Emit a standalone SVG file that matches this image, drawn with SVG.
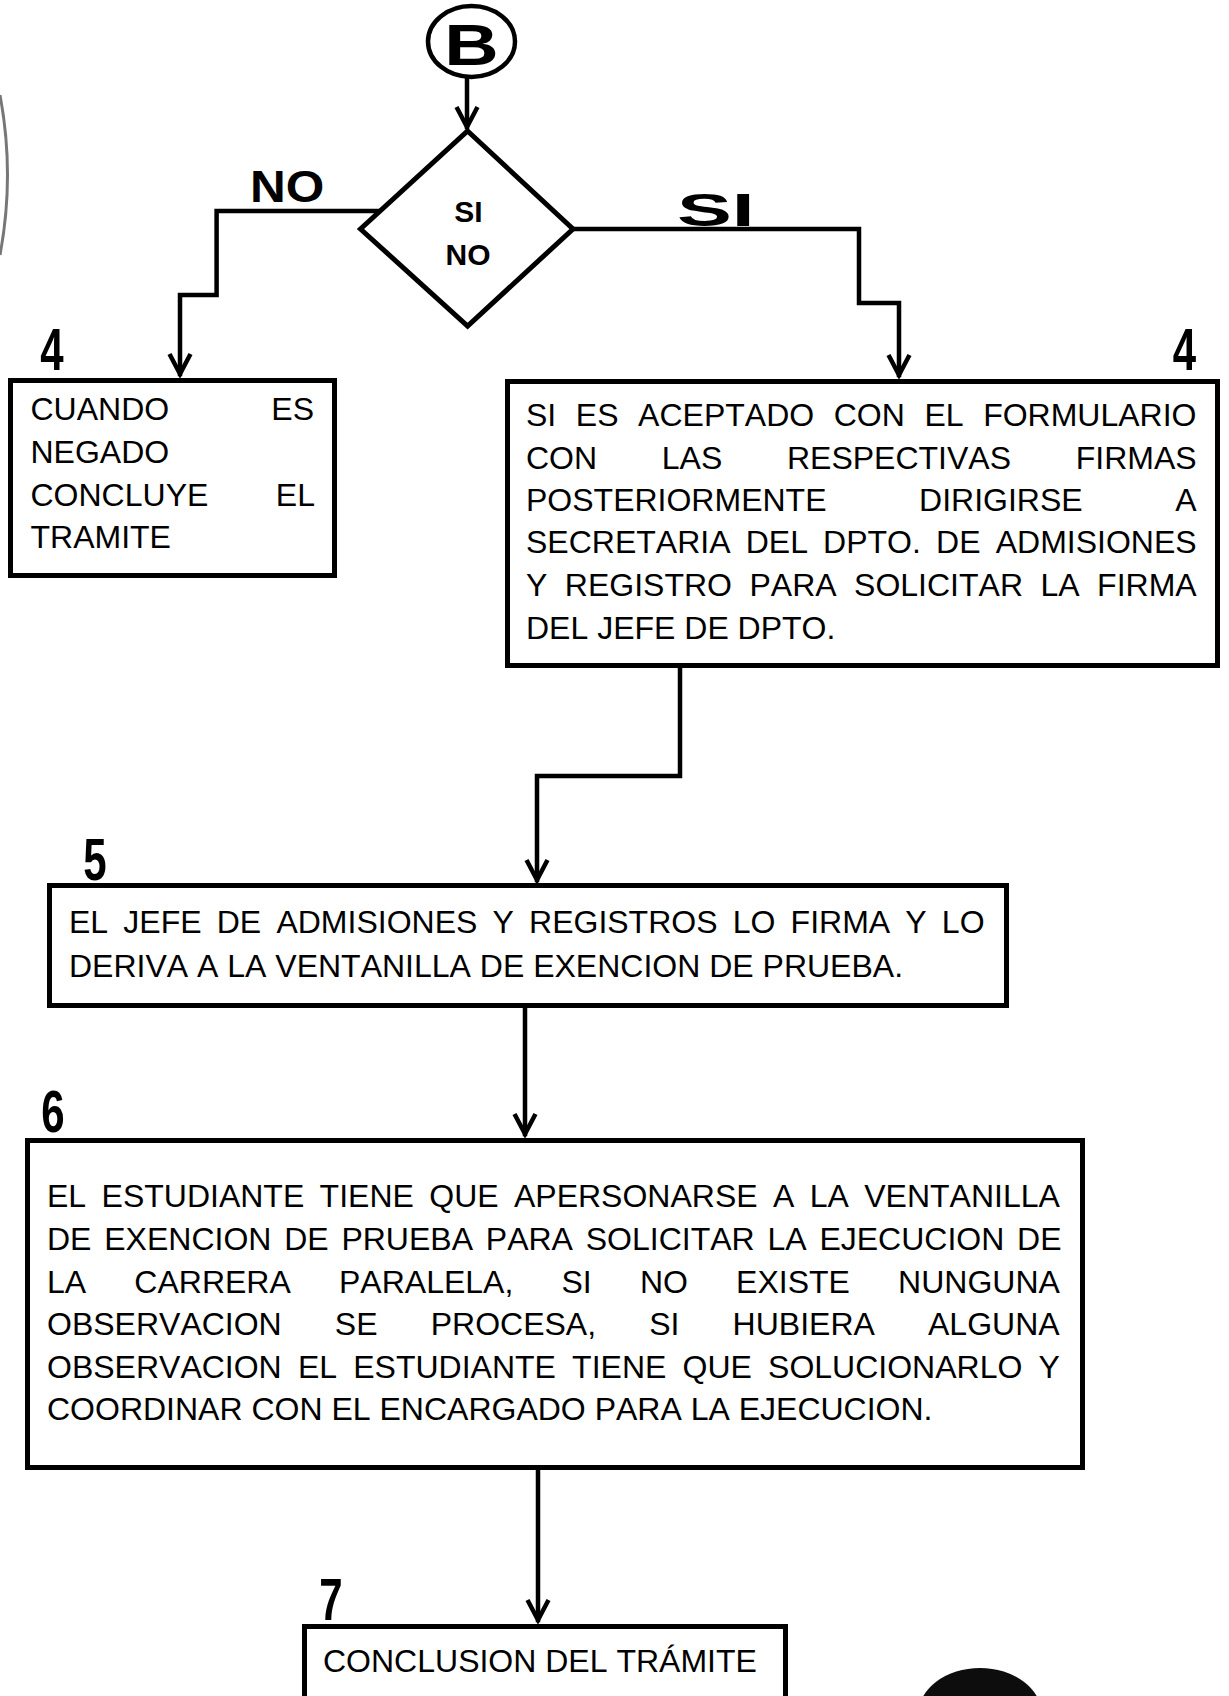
<svg xmlns="http://www.w3.org/2000/svg" width="1229" height="1696" viewBox="0 0 1229 1696">
<style>
.box{fill:#fff;stroke:#000;stroke-width:5;stroke-linejoin:miter}
.conn{fill:none;stroke:#000;stroke-width:4.5;stroke-linejoin:miter;stroke-linecap:square}
text{font-kerning:none}
.t{font-family:"Liberation Sans",Arial,sans-serif;font-size:32px;fill:#000}
.b{font-family:"Liberation Sans",Arial,sans-serif;font-weight:bold;fill:#000}
.num{font-family:"Liberation Sans",Arial,sans-serif;font-weight:bold;font-size:60px;fill:#000;text-anchor:middle}
</style>
<defs>
<marker id="arr" markerUnits="userSpaceOnUse" markerWidth="30" markerHeight="30" refX="0" refY="0" orient="auto" overflow="visible">
<path d="M-20,-10.5 L0,0 L-20,10.5" fill="none" stroke="#000" stroke-width="4.5" stroke-linejoin="miter"/>
</marker>
</defs>
<rect x="0" y="0" width="1229" height="1696" fill="#fff"/>
<path d="M0,95 Q15,175 0,255" fill="none" stroke="#777" stroke-width="3"/>
<ellipse cx="980" cy="1715" rx="62" ry="47" fill="#0d0d0d"/>

<g id="connectors">
<path class="conn" d="M467,80 V127" marker-end="url(#arr)"/>
<path class="conn" d="M380,211 H216.6 V295 H180 V374" marker-end="url(#arr)"/>
<path class="conn" d="M573,229 H859 V303 H899 V375" marker-end="url(#arr)"/>
<path class="conn" d="M680,668 V776 H537 V880" marker-end="url(#arr)"/>
<path class="conn" d="M525,1008 V1134" marker-end="url(#arr)"/>
<path class="conn" d="M538,1470 V1620" marker-end="url(#arr)"/>
</g>

<g id="start-B">
<ellipse cx="471.5" cy="41.5" rx="43.5" ry="35.5" fill="#fff" stroke="#000" stroke-width="4.5"/>
<text class="b" font-size="58" text-anchor="middle" transform="translate(471.5,65) scale(1.3,1)">B</text>
</g>

<g id="decision">
<polygon class="box" points="467.6,131 573,229 467.6,326 360.5,229"/>
<text class="b" font-size="30" text-anchor="middle" x="468.5" y="222">SI</text>
<text class="b" font-size="30" text-anchor="middle" x="468" y="265">NO</text>
</g>

<g id="label-no">
<text class="b" font-size="45" transform="translate(250,202) scale(1.1,1)">NO</text>
</g>
<g id="label-si">
<text class="b" font-size="47" transform="translate(677,226) scale(1.75,1)">SI</text>
</g>

<g id="step4-no">
<text class="num" transform="translate(52,370) scale(0.7,1)">4</text>
<rect class="box" x="10.5" y="380.5" width="324" height="195"/>
<text class="t" x="30.5" y="420">CUANDO</text>
<text class="t" x="314" y="420" text-anchor="end">ES</text>
<text class="t" x="30.5" y="463">NEGADO</text>
<text class="t" x="30.5" y="506">CONCLUYE</text>
<text class="t" x="315" y="506" text-anchor="end">EL</text>
<text class="t" x="30.5" y="548">TRAMITE</text>
</g>

<g id="step4-si">
<text class="num" transform="translate(1184.5,370) scale(0.7,1)">4</text>
<rect class="box" x="507.5" y="381.5" width="710" height="284"/>
<text class="t" x="526" y="426" word-spacing="10.7">SI ES ACEPTADO CON EL FORMULARIO</text>
<text class="t" x="526" y="469" word-spacing="55.8">CON LAS RESPECTIVAS FIRMAS</text>
<text class="t" x="526" y="511" word-spacing="83.7">POSTERIORMENTE DIRIGIRSE A</text>
<text class="t" x="526" y="553" word-spacing="6.3">SECRETARIA DEL DPTO. DE ADMISIONES</text>
<text class="t" x="526" y="596" word-spacing="8.6">Y REGISTRO PARA SOLICITAR LA FIRMA</text>
<text class="t" x="526" y="639">DEL JEFE DE DPTO.</text>
</g>

<g id="step5">
<text class="num" transform="translate(95,880) scale(0.7,1)">5</text>
<rect class="box" x="49.5" y="885.5" width="957" height="120"/>
<text class="t" x="69" y="933" word-spacing="6.3">EL JEFE DE ADMISIONES Y REGISTROS LO FIRMA Y LO</text>
<text class="t" x="69" y="977">DERIVA A LA VENTANILLA DE EXENCION DE PRUEBA.</text>
</g>

<g id="step6">
<text class="num" transform="translate(53,1132) scale(0.7,1)">6</text>
<rect class="box" x="27.5" y="1140.5" width="1055" height="327"/>
<text class="t" x="47" y="1207" word-spacing="6.5">EL ESTUDIANTE TIENE QUE APERSONARSE A LA VENTANILLA</text>
<text class="t" x="47" y="1250" word-spacing="3.9">DE EXENCION DE PRUEBA PARA SOLICITAR LA EJECUCION DE</text>
<text class="t" x="47" y="1293" word-spacing="39.3">LA CARRERA PARALELA, SI NO EXISTE NUNGUNA</text>
<text class="t" x="47" y="1335" word-spacing="44.26">OBSERVACION SE PROCESA, SI HUBIERA ALGUNA</text>
<text class="t" x="47" y="1378" word-spacing="7.3">OBSERVACION EL ESTUDIANTE TIENE QUE SOLUCIONARLO Y</text>
<text class="t" x="47" y="1420">COORDINAR CON EL ENCARGADO PARA LA EJECUCION.</text>
</g>

<g id="step7">
<text class="num" transform="translate(331,1620) scale(0.7,1)">7</text>
<rect class="box" x="304.5" y="1626.5" width="481" height="80"/>
<text class="t" x="323" y="1672">CONCLUSION DEL TRÁMITE</text>
</g>
</svg>
